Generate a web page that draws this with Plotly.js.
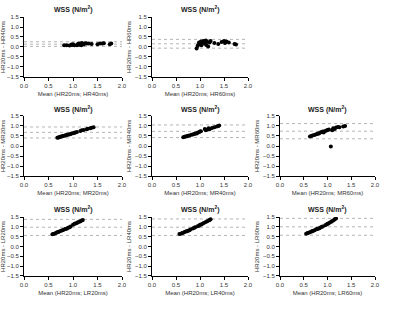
<!DOCTYPE html>
<html><head><meta charset="utf-8">
<script src="https://cdn.plot.ly/plotly-3.0.1.min.js"></script>
<style>html,body{margin:0;padding:0;background:#fff}#c{width:400px;height:310px}</style>
</head><body><div id="c"></div>
<script>
// ---- data ----
const yTitles = ["HR20ms - HR40ms","HR20ms - HR60ms","HR20ms - MR20ms","HR20ms - MR40ms","HR20ms - MR60ms","HR20ms - LR20ms","HR20ms - LR40ms","HR20ms - LR60ms"];
const xTitles = ["Mean (HR20ms; HR40ms)","Mean (HR20ms; HR60ms)","Mean (HR20ms; MR20ms)","Mean (HR20ms; MR40ms)","Mean (HR20ms; MR60ms)","Mean (HR20ms; LR20ms)","Mean (HR20ms; LR40ms)","Mean (HR20ms; LR60ms)"];
const xTicks = [0,0.5,1,1.5,2];
const yTicks = [-1.5,-1,-0.5,0,0.5,1,1.5];

const x1 = [0.82,0.87,0.93,0.97,0.98,1.00,1.03,1.08,1.10,1.12,1.13,1.15,1.17,1.18,1.20,1.22,1.25,1.28,1.32,1.38,1.50,1.55,1.60,1.63,1.75,1.78];
const y1 = [0.08,0.09,0.07,0.12,0.10,0.13,0.09,0.08,0.15,0.18,0.11,0.14,0.08,0.20,0.16,0.12,0.19,0.17,0.18,0.15,0.14,0.18,0.17,0.19,0.13,0.17];
const x2 = [0.93,0.95,0.97,0.98,1.00,1.02,1.03,1.05,1.07,1.08,1.10,1.12,1.13,1.15,1.17,1.20,1.22,1.30,1.38,1.45,1.50,1.52,1.55,1.60,1.72,1.75];
const y2 = [-0.08,0.05,0.12,0.22,0.15,0.28,0.08,0.20,0.30,0.25,0.18,0.33,0.10,0.26,0.02,0.22,0.30,0.20,0.15,0.25,0.30,0.20,0.28,0.22,0.15,0.12];
const x3 = [0.68,0.70,0.72,0.74,0.76,0.78,0.80,0.83,0.85,0.87,0.90,0.92,0.95,0.97,1.00,1.03,1.05,1.08,1.15,1.18,1.22,1.28,1.30,1.35,1.38,1.42];
const y3 = [0.41,0.43,0.44,0.46,0.47,0.49,0.50,0.52,0.53,0.55,0.57,0.58,0.60,0.62,0.64,0.66,0.68,0.70,0.75,0.78,0.80,0.84,0.86,0.89,0.91,0.93];
const x4 = [0.65,0.68,0.70,0.73,0.75,0.78,0.82,0.85,0.88,0.90,0.93,0.95,0.98,1.00,1.02,1.10,1.12,1.15,1.18,1.20,1.25,1.30,1.35,1.38,1.40];
const y4 = [0.44,0.46,0.47,0.49,0.51,0.53,0.56,0.58,0.60,0.62,0.63,0.66,0.70,0.72,0.74,0.85,0.78,0.82,0.88,0.84,0.90,0.93,0.97,1.00,1.02];
const x5 = [0.63,0.66,0.68,0.72,0.75,0.78,0.80,0.82,0.85,0.88,0.90,0.92,0.95,0.98,1.00,1.03,1.07,1.10,1.12,1.15,1.18,1.22,1.25,1.33,1.37];
const y5 = [0.47,0.50,0.52,0.55,0.57,0.60,0.63,0.62,0.67,0.70,0.72,0.68,0.75,0.77,0.80,0.82,-0.02,0.78,0.88,0.85,0.92,0.95,0.93,0.97,1.00];
const x6 = [0.58,0.60,0.63,0.66,0.68,0.70,0.72,0.75,0.78,0.80,0.83,0.85,0.88,0.90,0.93,0.95,1.00,1.03,1.05,1.08,1.10,1.13,1.15,1.18,1.20];
const y6 = [0.62,0.64,0.66,0.70,0.72,0.74,0.76,0.79,0.82,0.84,0.87,0.89,0.92,0.95,0.98,1.02,1.10,1.15,1.17,1.20,1.23,1.26,1.28,1.32,1.35];
const x7 = [0.57,0.60,0.63,0.65,0.68,0.70,0.73,0.75,0.78,0.80,0.85,0.88,0.90,0.95,0.98,1.00,1.03,1.05,1.08,1.12,1.15,1.18,1.20,1.22];
const y7 = [0.63,0.65,0.68,0.70,0.73,0.76,0.78,0.80,0.83,0.86,0.92,0.95,0.98,1.03,1.06,1.10,1.12,1.16,1.20,1.25,1.28,1.32,1.35,1.38];
const x8 = [0.55,0.58,0.60,0.63,0.66,0.68,0.70,0.73,0.76,0.78,0.80,0.83,0.85,0.88,0.90,0.95,0.98,1.00,1.02,1.05,1.08,1.10,1.13,1.15,1.18];
const y8 = [0.65,0.68,0.70,0.72,0.76,0.78,0.80,0.83,0.87,0.89,0.90,0.93,0.96,1.00,1.02,1.08,1.12,1.15,1.17,1.22,1.26,1.30,1.33,1.38,1.42];
// limits of agreement: [upper, mean, lower]
const loa = [[0.26,0.14,0.03],[0.38,0.16,-0.06],[0.95,0.68,0.40],[1.05,0.73,0.42],[1.12,0.74,0.36],[1.38,0.98,0.56],[1.40,0.98,0.56],[1.43,1.00,0.57]];
const lineX = [0,2];
// ---- layout geometry ----
const colDom = [[0.06,0.305],[0.38,0.62],[0.70,0.9375]];
const rowDom = [[0.752,0.945],[0.432,0.626],[0.110,0.300]];
const cells = [[0,0],[0,1],[1,0],[1,1],[1,2],[2,0],[2,1],[2,2]];
const titleY = [0.968,0.648,0.325];

const xs=[x1,x2,x3,x4,x5,x6,x7,x8], ys=[y1,y2,y3,y4,y5,y6,y7,y8];
const data=[]; const layout={width:400,height:310,margin:{l:0,r:0,t:0,b:0},showlegend:false,
  paper_bgcolor:'#fff',plot_bgcolor:'#fff',font:{family:'Liberation Sans, Arial, sans-serif',color:'#333'},annotations:[]};
const fnt={family:'Liberation Sans, Arial, sans-serif',size:6,color:'#333'};
for(let i=0;i<8;i++){
  const s=i===0?'':String(i+1);
  const r=cells[i][0], c=cells[i][1];
  for(const v of loa[i]){
    data.push({x:lineX,y:[v,v],xaxis:'x'+s,yaxis:'y'+s,mode:'lines',line:{color:'#b5b5b5',width:1,dash:'dot'},hoverinfo:'skip'});
  }
  data.push({x:xs[i],y:ys[i],xaxis:'x'+s,yaxis:'y'+s,mode:'markers',marker:{color:'#000',size:4}});
  layout['xaxis'+s]={domain:colDom[c],anchor:'y'+s,range:[0,2],tickvals:xTicks,tickformat:'.1f',showgrid:false,zeroline:false,
    showline:true,linecolor:'#000',linewidth:1,ticks:'outside',ticklen:3,tickcolor:'#000',tickfont:fnt,
    title:{text:xTitles[i],font:fnt,standoff:3}};
  layout['yaxis'+s]={domain:rowDom[r],anchor:'x'+s,range:[-1.5,1.5],tickvals:yTicks,tickformat:'.1f',showgrid:false,zeroline:false,
    showline:true,linecolor:'#000',linewidth:1,ticks:'outside',ticklen:3,tickcolor:'#000',tickfont:fnt,
    title:{text:yTitles[i],font:fnt,standoff:2}};
  layout.annotations.push({text:'<b>WSS (N/m<sup>2</sup>)</b>',xref:'paper',yref:'paper',x:(colDom[c][0]+colDom[c][1])/2,y:titleY[r],
    xanchor:'center',yanchor:'middle',showarrow:false,font:{family:'Liberation Sans, Arial, sans-serif',size:7,color:'#222'}});
}
Plotly.newPlot('c',data,layout,{staticPlot:true,displayModeBar:false});
</script></body></html>
